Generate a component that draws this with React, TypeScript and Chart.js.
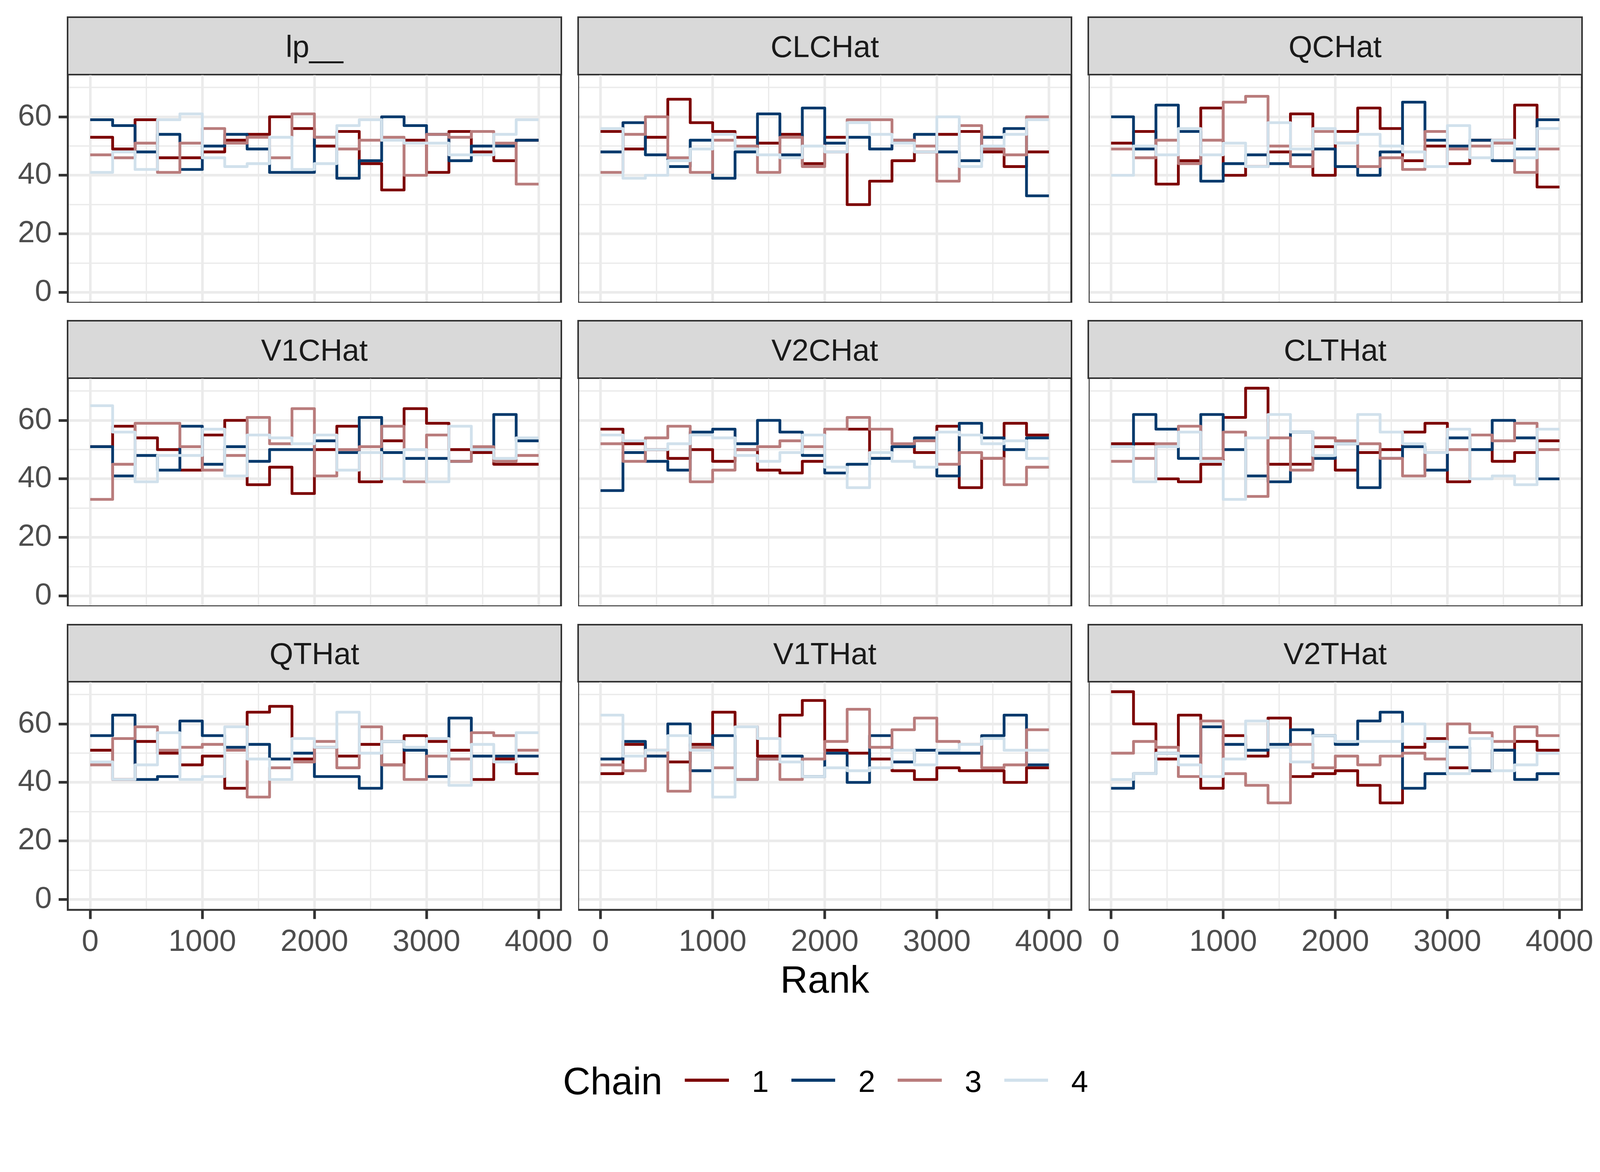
import React, { useEffect, useRef } from "react";
import { Chart, registerables } from "chart.js";

Chart.register(...registerables);

// ---------- data ----------
const parameters = ["lp__", "CLCHat", "QCHat", "V1CHat", "V2CHat", "CLTHat", "QTHat", "V1THat", "V2THat"];
const chains = ["1", "2", "3", "4"];
const chainColors = ["#7C0000", "#03396C", "#B97C7C", "#D1E1EC"];

// left edges of the 20 rank bins plus the right edge of the last bin
const rankBreaks = [0, 200, 400, 600, 800, 1000, 1200, 1400, 1600, 1800, 2000, 2200, 2400, 2600, 2800, 3000, 3200, 3400, 3600, 3800, 4000];
const xTicks = [0, 500, 1000, 1500, 2000, 2500, 3000, 3500, 4000];
const xMajor = [0, 1000, 2000, 3000, 4000];
const yTicks = [0, 10, 20, 30, 40, 50, 60, 70];
const yMajor = [0, 20, 40, 60];

// bin counts per chain (rows = chains 1..4)
const lp__ = [
  [53, 49, 59, 46, 46, 48, 52, 54, 60, 56, 50, 55, 44, 35, 52, 41, 55, 48, 45, 52],
  [59, 57, 48, 54, 42, 50, 54, 49, 41, 41, 53, 39, 45, 60, 57, 54, 45, 50, 50, 52],
  [47, 46, 51, 41, 51, 56, 51, 53, 46, 61, 53, 49, 52, 53, 40, 54, 53, 55, 51, 37],
  [41, 48, 42, 59, 61, 46, 43, 44, 53, 42, 44, 57, 59, 52, 51, 51, 47, 47, 54, 59],
];
const CLCHat = [
  [55, 49, 53, 66, 58, 55, 53, 51, 54, 44, 53, 30, 38, 45, 48, 54, 55, 48, 43, 48],
  [48, 58, 47, 43, 52, 39, 48, 61, 47, 63, 51, 53, 49, 52, 54, 48, 45, 53, 56, 33],
  [41, 54, 60, 46, 41, 52, 50, 41, 53, 43, 48, 59, 59, 52, 50, 38, 57, 49, 47, 60],
  [56, 39, 40, 45, 49, 54, 49, 47, 46, 50, 48, 58, 54, 51, 48, 60, 43, 50, 54, 59],
];
const QCHat = [
  [51, 55, 37, 45, 63, 40, 43, 48, 61, 40, 55, 63, 56, 45, 50, 44, 52, 52, 64, 36],
  [60, 49, 64, 55, 38, 44, 47, 44, 47, 49, 43, 40, 48, 65, 52, 50, 52, 45, 49, 59],
  [49, 46, 52, 44, 52, 65, 67, 50, 43, 55, 51, 43, 46, 42, 55, 49, 50, 51, 41, 49],
  [40, 50, 47, 56, 47, 51, 43, 58, 49, 56, 51, 54, 50, 48, 43, 57, 46, 52, 46, 56],
];
const V1CHat = [
  [51, 58, 54, 50, 43, 55, 60, 38, 44, 35, 50, 58, 39, 53, 64, 59, 50, 49, 45, 45],
  [51, 41, 48, 43, 58, 45, 51, 46, 50, 50, 53, 49, 61, 49, 47, 47, 46, 50, 62, 53],
  [33, 45, 59, 59, 51, 43, 48, 61, 52, 64, 41, 50, 51, 58, 39, 55, 46, 51, 46, 48],
  [65, 56, 39, 48, 48, 57, 41, 55, 54, 52, 55, 43, 49, 40, 50, 39, 58, 50, 47, 54],
];
const V2CHat = [
  [57, 52, 50, 47, 50, 46, 50, 43, 42, 46, 57, 57, 47, 51, 49, 58, 37, 47, 59, 55],
  [36, 49, 46, 43, 56, 57, 52, 60, 56, 48, 42, 45, 47, 51, 54, 41, 59, 54, 50, 54],
  [52, 46, 54, 58, 39, 43, 50, 51, 53, 51, 57, 61, 57, 52, 53, 45, 49, 47, 38, 44],
  [55, 53, 50, 52, 55, 54, 48, 46, 49, 55, 44, 37, 49, 46, 44, 56, 55, 52, 53, 47],
];
const CLTHat = [
  [52, 52, 40, 39, 45, 61, 71, 45, 45, 51, 43, 49, 50, 56, 59, 39, 55, 46, 49, 53],
  [51, 62, 57, 47, 62, 50, 41, 39, 56, 47, 52, 37, 47, 51, 43, 54, 50, 60, 54, 40],
  [46, 47, 52, 58, 47, 56, 34, 54, 43, 54, 53, 52, 47, 41, 49, 50, 55, 53, 59, 50],
  [51, 39, 51, 56, 46, 33, 54, 62, 56, 48, 52, 62, 56, 52, 49, 57, 40, 41, 38, 57],
];
const QTHat = [
  [51, 41, 54, 50, 46, 49, 38, 64, 66, 48, 52, 49, 53, 46, 56, 54, 51, 41, 48, 43],
  [56, 63, 41, 42, 61, 56, 52, 53, 48, 50, 42, 42, 38, 54, 51, 42, 62, 49, 49, 49],
  [46, 55, 59, 51, 52, 53, 51, 35, 45, 47, 54, 45, 59, 46, 41, 49, 48, 57, 56, 51],
  [47, 41, 46, 57, 41, 42, 59, 48, 41, 55, 52, 64, 50, 54, 52, 55, 39, 53, 47, 57],
];
const V1THat = [
  [43, 53, 49, 47, 53, 64, 59, 49, 63, 68, 51, 50, 48, 44, 41, 45, 44, 44, 40, 45],
  [48, 54, 49, 60, 44, 56, 41, 48, 49, 42, 50, 40, 56, 47, 51, 50, 50, 56, 63, 46],
  [46, 44, 51, 37, 52, 45, 41, 48, 41, 48, 54, 65, 52, 58, 62, 54, 53, 45, 46, 58],
  [63, 49, 51, 56, 51, 35, 59, 55, 47, 42, 45, 44, 45, 51, 46, 51, 53, 55, 51, 51],
];
const V2THat = [
  [71, 60, 48, 63, 38, 56, 49, 62, 42, 43, 44, 39, 33, 52, 55, 45, 44, 51, 54, 51],
  [38, 43, 50, 49, 59, 53, 51, 53, 58, 56, 53, 61, 64, 38, 43, 52, 44, 51, 41, 43],
  [50, 54, 52, 42, 61, 43, 39, 33, 53, 45, 49, 46, 49, 50, 48, 60, 57, 54, 59, 56],
  [41, 43, 50, 46, 42, 48, 61, 52, 47, 56, 54, 54, 54, 60, 54, 43, 55, 44, 46, 50],
];
const panelCounts = [lp__, CLCHat, QCHat, V1CHat, V2CHat, CLTHat, QTHat, V1THat, V2THat];

// ---------- layout ----------
const S = 0.975;
const s = (v: number) => v * S;
const FONT = "'Liberation Sans', Arial, Helvetica, sans-serif";
const PANEL_W = s(1295);
const PANEL_H = s(600);
const COL_LEFT0 = s(178);
const COL_PITCH = s(1340);
const ROW_TOP0 = s(195);
const ROW_PITCH = s(797);
const STRIP_H = s(149);
const RIGHT_PAD = s(110);
const X_AXIS_H = s(200);
const TICK_FONT = s(80);
const TITLE_FONT = s(100);

const panelBorder = {
  id: "panelBorder",
  afterDatasetsDraw(chart: any) {
    const { ctx, chartArea: a } = chart;
    ctx.save();
    ctx.strokeStyle = "#333333";
    ctx.lineWidth = s(5);
    ctx.strokeRect(a.left, a.top, a.right - a.left, a.bottom - a.top);
    ctx.restore();
  },
};

function Panel({ idx }: { idx: number }) {
  const ref = useRef<HTMLCanvasElement>(null);
  const col = idx % 3;
  const row = Math.floor(idx / 3);
  const showY = col === 0;
  const showX = row === 2;
  const wy = showY ? COL_LEFT0 : 0;
  const hx = showX ? X_AXIS_H : 0;
  const panelLeft = COL_LEFT0 + col * COL_PITCH;
  const panelTop = ROW_TOP0 + row * ROW_PITCH;
  const cw = Math.round(wy + PANEL_W + RIGHT_PAD);
  const ch = Math.round(PANEL_H + hx);
  const padRight = cw - wy - PANEL_W;
  const padBottom = ch - PANEL_H - hx;

  useEffect(() => {
    const counts = panelCounts[idx];
    const datasets = chains.map((c, i) => ({
      label: "Chain " + c,
      data: rankBreaks.map((x, k) => ({ x, y: counts[i][Math.min(k, counts[i].length - 1)] })),
      borderColor: chainColors[i],
      backgroundColor: chainColors[i],
      borderWidth: s(7.3),
      pointRadius: 0,
      pointHoverRadius: 0,
      stepped: true,
      fill: false,
      tension: 0,
      borderJoinStyle: "round",
      borderCapStyle: "butt",
      order: 4 - i,
    }));
    const chart = new Chart(ref.current as HTMLCanvasElement, {
      type: "line",
      data: { datasets } as any,
      plugins: [panelBorder],
      options: {
        animation: false,
        responsive: false,
        devicePixelRatio: 1,
        events: [],
        layout: { padding: { left: 0, right: padRight, top: 0, bottom: padBottom } },
        plugins: { legend: { display: false }, tooltip: { enabled: false }, title: { display: false } },
        scales: {
          x: {
            type: "linear",
            min: -200,
            max: 4200,
            afterBuildTicks: (sc: any) => {
              sc.ticks = xTicks.map((v) => ({ value: v }));
            },
            afterFit: (sc: any) => {
              sc.height = hx;
              sc.paddingLeft = 0;
              sc.paddingRight = 0;
              sc.paddingTop = 0;
              sc.paddingBottom = 0;
            },
            border: { display: false },
            grid: {
              color: "#EBEBEB",
              lineWidth: (c: any) => (xMajor.includes(c.tick?.value) ? s(6.7) : s(3.4)),
              drawTicks: showX,
              tickLength: s(24),
              tickWidth: s(7),
              tickColor: (c: any) => (xMajor.includes(c.tick?.value) ? "#333333" : "rgba(0,0,0,0)"),
            },
            ticks: {
              display: showX,
              autoSkip: false,
              maxRotation: 0,
              minRotation: 0,
              padding: s(14),
              color: "#4D4D4D",
              font: { family: FONT, size: TICK_FONT },
              callback: (v: any) => (xMajor.includes(Number(v)) ? String(v) : ""),
            },
          },
          y: {
            type: "linear",
            min: -3.55,
            max: 74.55,
            afterBuildTicks: (sc: any) => {
              sc.ticks = yTicks.map((v) => ({ value: v }));
            },
            afterFit: (sc: any) => {
              sc.width = wy;
              sc.paddingLeft = 0;
              sc.paddingRight = 0;
              sc.paddingTop = 0;
              sc.paddingBottom = 0;
            },
            border: { display: false },
            grid: {
              color: "#EBEBEB",
              lineWidth: (c: any) => (yMajor.includes(c.tick?.value) ? s(7) : s(3.5)),
              drawTicks: showY,
              tickLength: s(24),
              tickWidth: s(7),
              tickColor: (c: any) => (yMajor.includes(c.tick?.value) ? "#333333" : "rgba(0,0,0,0)"),
            },
            ticks: {
              display: showY,
              autoSkip: false,
              padding: s(18),
              color: "#4D4D4D",
              font: { family: FONT, size: TICK_FONT },
              callback: (v: any) => (yMajor.includes(Number(v)) ? String(v) : ""),
            },
          },
        },
      } as any,
    });
    return () => chart.destroy();
  }, [idx]);

  return (
    <>
      <div
        style={{
          position: "absolute",
          left: panelLeft - s(2.5),
          top: panelTop - STRIP_H - s(2.5),
          width: PANEL_W + s(5),
          height: STRIP_H + s(5),
          boxSizing: "border-box",
          border: `${s(5)}px solid #333333`,
          background: "#D9D9D9",
        }}
      />
      <div
        style={{
          position: "absolute",
          left: panelLeft,
          top: panelTop - STRIP_H + s(36),
          width: PANEL_W,
          textAlign: "center",
          fontFamily: FONT,
          fontSize: TICK_FONT,
          lineHeight: `${TICK_FONT}px`,
          color: "#1A1A1A",
          whiteSpace: "nowrap",
        }}
      >
        {parameters[idx]}
      </div>
      <canvas
        ref={ref}
        width={cw}
        height={ch}
        style={{ position: "absolute", left: panelLeft - wy, top: panelTop, width: cw, height: ch }}
      />
    </>
  );
}

export default function App() {
  const keyStart = s(1784);
  const keyPitch = s(279.5);
  return (
    <div
      style={{
        position: "absolute",
        left: 0,
        top: 0,
        width: 4200,
        height: 3000,
        background: "#FFFFFF",
        overflow: "hidden",
      }}
    >
      {parameters.map((p, i) => (
        <Panel key={p} idx={i} />
      ))}
      <div
        style={{
          position: "absolute",
          left: COL_LEFT0 + COL_PITCH,
          top: s(2522),
          width: PANEL_W,
          textAlign: "center",
          fontFamily: FONT,
          fontSize: TITLE_FONT,
          lineHeight: `${TITLE_FONT}px`,
          color: "#000000",
        }}
      >
        Rank
      </div>
      <div
        style={{
          position: "absolute",
          left: s(1478),
          top: s(2789),
          fontFamily: FONT,
          fontSize: TITLE_FONT,
          lineHeight: `${TITLE_FONT}px`,
          color: "#000000",
          whiteSpace: "nowrap",
        }}
      >
        Chain
      </div>
      {chains.map((c, i) => (
        <React.Fragment key={c}>
          <div
            style={{
              position: "absolute",
              left: keyStart + i * keyPitch + s(14.4),
              top: s(2832),
              width: s(115),
              height: s(7.7),
              background: chainColors[i],
            }}
          />
          <div
            style={{
              position: "absolute",
              left: keyStart + i * keyPitch + s(144 + 46),
              top: s(2799),
              fontFamily: FONT,
              fontSize: TICK_FONT,
              lineHeight: `${TICK_FONT}px`,
              color: "#000000",
              whiteSpace: "nowrap",
            }}
          >
            {c}
          </div>
        </React.Fragment>
      ))}
    </div>
  );
}
